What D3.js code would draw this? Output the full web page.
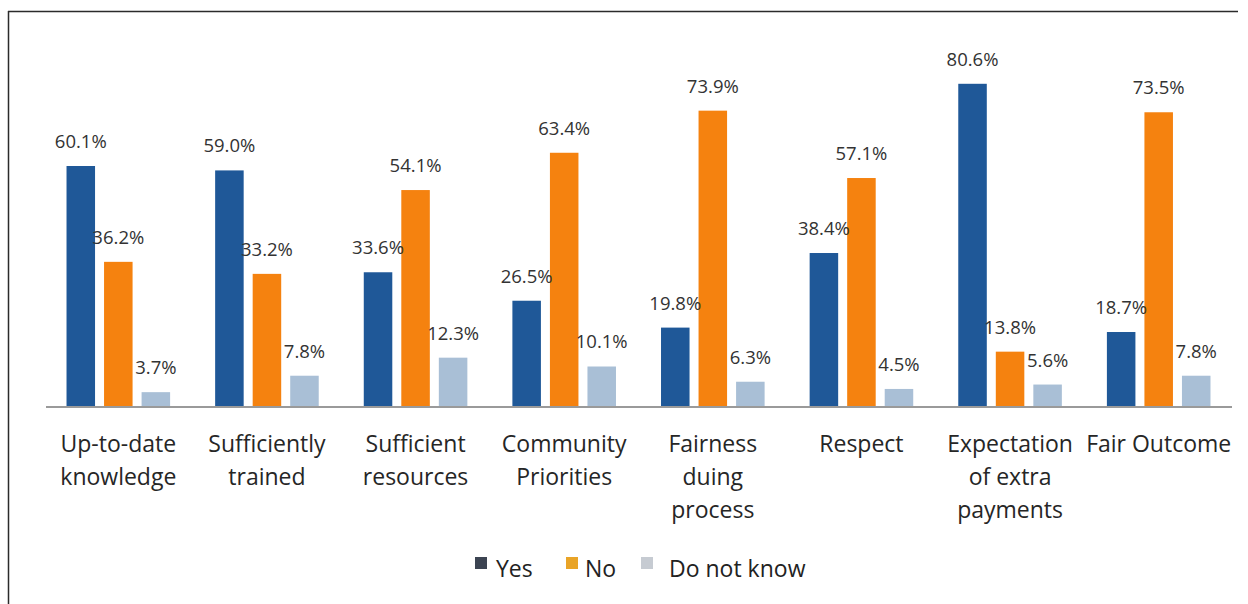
<!DOCTYPE html>
<html>
<head>
<meta charset="utf-8">
<script src="https://cdn.jsdelivr.net/npm/d3@7"></script>
<style>
  html, body { margin: 0; padding: 0; background: #fff; }
  svg { display: block; font-family: "Open Sans", "DejaVu Sans", sans-serif; }
</style>
</head>
<body>
<svg id="chart" width="1248" height="604"></svg>
<script>
// Survey categories (x axis) and their multi-line labels
const categories = [
  "Up-to-date knowledge", "Sufficiently trained", "Sufficient resources",
  "Community Priorities", "Fairness duing process", "Respect",
  "Expectation of extra payments", "Fair Outcome"
];
const categoryLines = [
  ["Up-to-date", "knowledge"],
  ["Sufficiently", "trained"],
  ["Sufficient", "resources"],
  ["Community", "Priorities"],
  ["Fairness", "duing", "process"],
  ["Respect"],
  ["Expectation", "of extra", "payments"],
  ["Fair Outcome"]
];

// Response series (percent of respondents)
const seriesNames = ["Yes", "No", "Do not know"];
const yesValues = [60.1, 59.0, 33.6, 26.5, 19.8, 38.4, 80.6, 18.7];
const noValues = [36.2, 33.2, 54.1, 63.4, 73.9, 57.1, 13.8, 73.5];
const dontKnowValues = [3.7, 7.8, 12.3, 10.1, 6.3, 4.5, 5.6, 7.8];

const barColors = ["#1f5898", "#f5820f", "#a9bfd6"];
const legendSwatches = ["#3c4452", "#e9a427", "#c6cbd2"];

const svg = d3.select("#chart");

// Frame lines (left and top)
svg.append("line").attr("x1", 8).attr("y1", 11.5).attr("x2", 1238).attr("y2", 11.5)
  .attr("stroke", "#2b2b2b").attr("stroke-width", 1.5);
svg.append("line").attr("x1", 8.5).attr("y1", 11).attr("x2", 8.5).attr("y2", 604)
  .attr("stroke", "#2b2b2b").attr("stroke-width", 1.5);

const x0 = d3.scaleBand().domain(categories).range([44, 1233]);
const x1 = d3.scaleBand().domain(seriesNames).range([0, x0.bandwidth()])
  .paddingInner(0.24).paddingOuter(0.6);
const y = d3.scaleLinear().domain([0, 100]).range([407, 6]);

const rows = categories.map((c, i) => ({
  category: c,
  values: [yesValues[i], noValues[i], dontKnowValues[i]]
}));

const groups = svg.append("g").selectAll("g")
  .data(rows).join("g")
  .attr("transform", d => `translate(${x0(d.category)},0)`);

groups.selectAll("rect")
  .data(d => d.values.map((v, k) => ({ series: seriesNames[k], value: v, k })))
  .join("rect")
  .attr("x", d => x1(d.series))
  .attr("y", d => y(d.value))
  .attr("width", x1.bandwidth())
  .attr("height", d => y(0) - y(d.value))
  .attr("fill", d => barColors[d.k]);

groups.selectAll("text.val")
  .data(d => d.values.map((v, k) => ({ series: seriesNames[k], value: v, k })))
  .join("text")
  .attr("class", "val")
  .attr("x", d => x1(d.series) + x1.bandwidth() / 2)
  .attr("y", d => y(d.value) - 18)
  .attr("text-anchor", "middle")
  .attr("font-size", 18.5)
  .attr("fill", "#333")
  .text(d => d.value.toFixed(1) + "%");

// Category axis
const axis = svg.append("g")
  .attr("transform", `translate(0,${y(0)})`)
  .call(d3.axisBottom(x0).tickSize(0).tickFormat(""));
axis.select(".domain").attr("stroke", "#9a9a9a").attr("stroke-width", 2)
  .attr("d", `M${x0.range()[0] + 2},0H${x0.range()[1] - 1}`);

axis.selectAll(".tick").each(function (d, i) {
  const t = d3.select(this).select("text")
    .attr("y", 0).attr("dy", null)
    .attr("font-size", 23)
    .attr("font-family", "'Open Sans', sans-serif")
    .attr("fill", "#262626");
  t.selectAll("tspan").data(categoryLines[i]).join("tspan")
    .attr("x", 0)
    .attr("y", (l, j) => 45 + j * 33)
    .text(l => l);
});

// Legend
const legendItems = [
  { name: "Yes", sx: 475, tx: 496 },
  { name: "No", sx: 566, tx: 585 },
  { name: "Do not know", sx: 641, tx: 669 }
];
const legend = svg.append("g");
legend.selectAll("rect").data(legendItems).join("rect")
  .attr("x", d => d.sx).attr("y", 557).attr("width", 12).attr("height", 12)
  .attr("fill", (d, i) => legendSwatches[i]);
legend.selectAll("text").data(legendItems).join("text")
  .attr("x", d => d.tx).attr("y", 577)
  .attr("font-size", 23)
  .attr("fill", "#222")
  .text(d => d.name);
</script>
</body>
</html>
